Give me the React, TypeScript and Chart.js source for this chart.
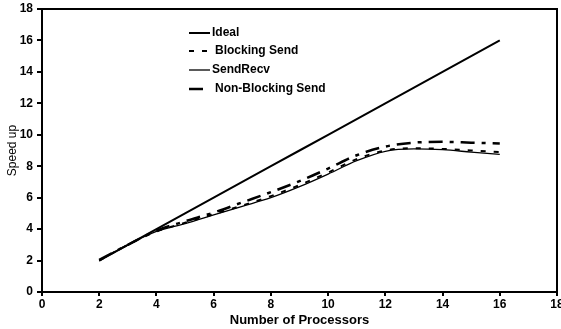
import React, { useEffect, useRef } from 'react';
import { Chart, registerables } from 'chart.js';

Chart.register(...registerables);

const processors = [2, 3, 4, 5, 6, 7, 8, 9, 10, 11, 12, 13, 14, 15, 16];
const ideal = [2, 3, 4, 5, 6, 7, 8, 9, 10, 11, 12, 13, 14, 15, 16];
const blockingSend = [2.0, 3.0, 3.85, 4.4, 4.95, 5.5, 6.1, 6.8, 7.6, 8.45, 9.0, 9.15, 9.1, 9.0, 8.9];
const sendRecv = [2.0, 3.0, 3.85, 4.35, 4.9, 5.45, 6.0, 6.7, 7.5, 8.35, 8.95, 9.1, 9.05, 8.9, 8.75];
const nonBlockingSend = [2.05, 3.0, 3.9, 4.5, 5.05, 5.7, 6.35, 7.05, 7.85, 8.7, 9.25, 9.5, 9.55, 9.5, 9.45];
const seriesNames = ['Ideal', 'Blocking Send', 'SendRecv', 'Non-Blocking Send'];
const xTitle = 'Number of Processors';
const yTitle = 'Speed up';

const FONT = 'Liberation Sans, Arial, sans-serif';

const boxPlugin = {
  id: 'boxPlugin',
  afterDraw(chart: any) {
    const { ctx, chartArea } = chart;
    ctx.save();
    ctx.strokeStyle = '#000';
    ctx.lineWidth = 2;
    ctx.setLineDash([]);
    ctx.strokeRect(chartArea.left, chartArea.top, chartArea.right - chartArea.left, chartArea.bottom - chartArea.top);
    ctx.restore();
  },
};

const legendPlugin = {
  id: 'insideLegend',
  afterDraw(chart: any) {
    const { ctx, chartArea } = chart;
    const x0 = chartArea.left + 147;
    const rows = [24, 42, 61, 80];
    const textX = [212, 215, 212, 215];
    ctx.save();
    chart.data.datasets.forEach((ds: any, i: number) => {
      const y = chartArea.top + rows[i];
      ctx.beginPath();
      ctx.strokeStyle = '#000';
      ctx.lineWidth = ds.borderWidth;
      ctx.setLineDash(ds.borderDash || []);
      ctx.moveTo(x0, y);
      ctx.lineTo(x0 + 21, y);
      ctx.stroke();
      ctx.setLineDash([]);
      ctx.fillStyle = '#000';
      ctx.font = `bold 12px ${FONT}`;
      ctx.textBaseline = 'middle';
      ctx.textAlign = 'left';
      ctx.fillText(ds.label, textX[i], y);
    });
    ctx.restore();
  },
};

export default function App() {
  const ref = useRef<HTMLCanvasElement | null>(null);

  useEffect(() => {
    document.body.style.margin = '0';
    const canvas = ref.current;
    if (!canvas) return;
    const mk = (vals: number[]) => processors.map((p, i) => ({ x: p, y: vals[i] }));
    const chart = new Chart(canvas, {
      type: 'line',
      data: {
        datasets: [
          { label: seriesNames[0], data: mk(ideal), borderColor: '#000', borderWidth: 2, pointRadius: 0, fill: false },
          { label: seriesNames[1], data: mk(blockingSend), borderColor: '#000', borderWidth: 2, borderDash: [5, 8], pointRadius: 0, fill: false, cubicInterpolationMode: 'monotone' },
          { label: seriesNames[2], data: mk(sendRecv), borderColor: '#000', borderWidth: 1.3, pointRadius: 0, fill: false, cubicInterpolationMode: 'monotone' },
          { label: seriesNames[3], data: mk(nonBlockingSend), borderColor: '#000', borderWidth: 2.5, borderDash: [14, 7, 4, 7], pointRadius: 0, fill: false, cubicInterpolationMode: 'monotone' },
        ] as any,
      },
      options: {
        animation: false,
        responsive: false,
        devicePixelRatio: 1,
        layout: { padding: { top: 9, right: 4, left: 0, bottom: 0 } },
        plugins: { legend: { display: false }, tooltip: { enabled: false } },
        scales: {
          x: {
            type: 'linear',
            min: 0,
            max: 18,
            ticks: { stepSize: 2, color: '#000', font: { family: FONT, size: 12, weight: 'bold' }, padding: 1, maxRotation: 0 },
            grid: { drawOnChartArea: false, drawTicks: true, tickLength: 4, color: '#000', lineWidth: 2 },
            border: { display: true, color: '#000', width: 2 },
            title: { display: true, text: xTitle, color: '#000', font: { family: FONT, size: 13, weight: 'bold' }, padding: { top: 0, bottom: 1 } },
            afterFit(scale: any) { scale.height = 37; scale.paddingLeft = 0; scale.paddingRight = 0; },
          },
          y: {
            type: 'linear',
            min: 0,
            max: 18,
            ticks: { stepSize: 2, color: '#000', font: { family: FONT, size: 12, weight: 'bold' }, padding: 4 },
            grid: { drawOnChartArea: false, drawTicks: true, tickLength: 5, color: '#000', lineWidth: 2 },
            border: { display: true, color: '#000', width: 2 },
            title: { display: true, text: yTitle, color: '#000', font: { family: FONT, size: 12 }, padding: { top: 5, bottom: 0 } },
            afterFit(scale: any) { scale.width = 42; scale.paddingTop = 0; scale.paddingBottom = 0; },
          },
        },
      } as any,
      plugins: [boxPlugin, legendPlugin],
    });
    return () => chart.destroy();
  }, []);

  return <canvas ref={ref} width={561} height={329} style={{ display: 'block', width: 561, height: 329 }} />;
}
